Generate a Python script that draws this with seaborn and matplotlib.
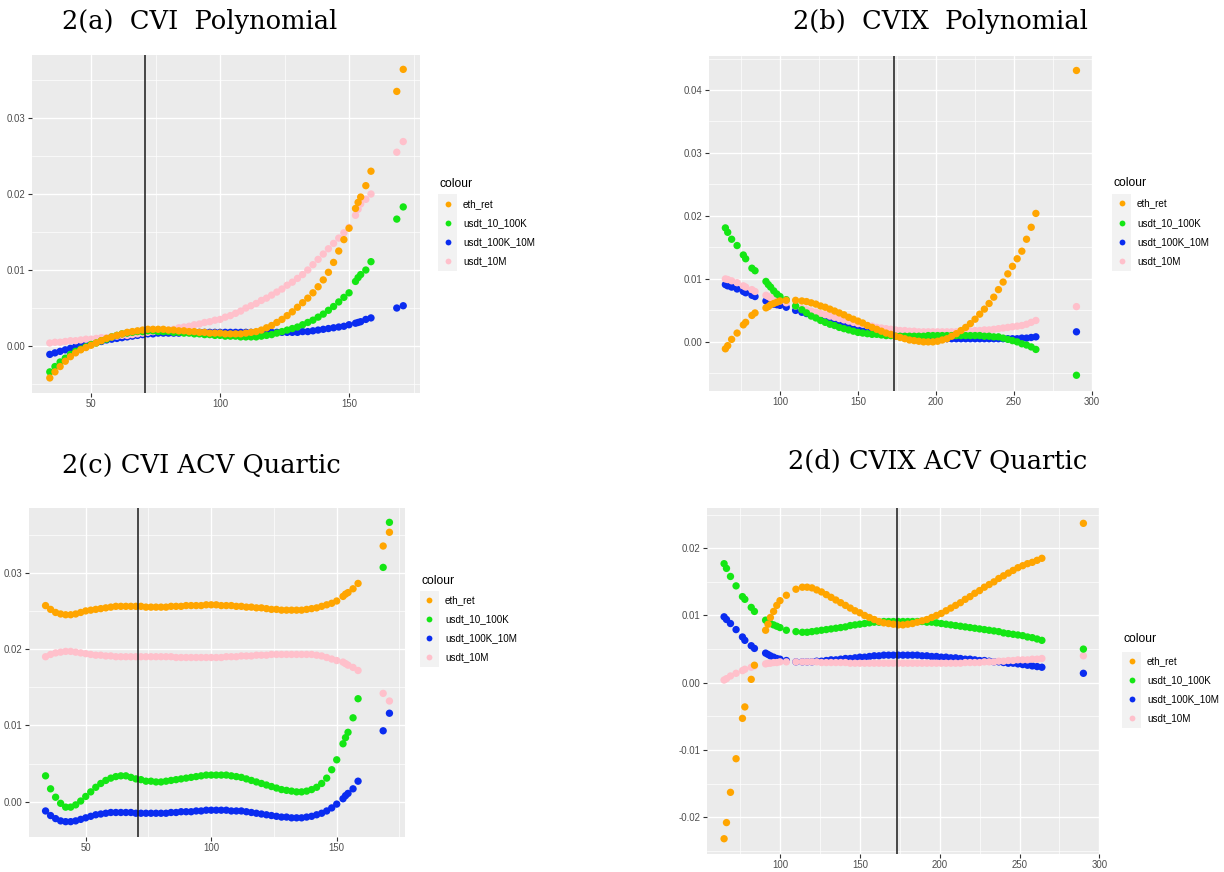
import numpy as np
import pandas as pd
import matplotlib
matplotlib.use("Agg")
import matplotlib.pyplot as plt
import seaborn as sns
from matplotlib.ticker import FixedLocator, FormatStrFormatter
from matplotlib.patches import Rectangle
from matplotlib.lines import Line2D

# ---------------- data ----------------
SERIES = ["eth_ret", "usdt_10_100K", "usdt_100K_10M", "usdt_10M"]
COLORS = {"eth_ret": "#FFA500", "usdt_10_100K": "#14E614",
          "usdt_100K_10M": "#0A2CF0", "usdt_10M": "#FFC0CB"}
DRAW_ORDER = ["usdt_100K_10M", "usdt_10M", "usdt_10_100K", "eth_ret"]

# CVI x positions (panels a and c)
x_cvi = [34, 36, 38, 40, 42, 44, 46, 48, 50, 52,
         54, 56, 58, 60, 62, 64, 66, 68, 70, 72,
         74, 76, 78, 80, 82, 84, 86, 88, 90, 92,
         94, 96, 98, 100, 102, 104, 106, 108, 110, 112,
         114, 116, 118, 120, 122, 124, 126, 128, 130, 132,
         134, 136, 138, 140, 142, 144, 146, 148, 150,
         152.5, 153.5, 154.5, 156.5, 158.5, 168.5, 171]

# 2(a) CVI Polynomial
a_eth_ret = [-0.0042, -0.0034, -0.0027, -0.0020, -0.0014, -0.0009, -0.0005, -0.0002, 0.0001, 0.0004,
             0.0007, 0.0010, 0.0012, 0.0014, 0.0016, 0.0018, 0.0019, 0.0020, 0.0021, 0.0022,
             0.0022, 0.0022, 0.0022, 0.0021, 0.0021, 0.0020, 0.0020, 0.0019, 0.0019, 0.0018,
             0.0018, 0.0017, 0.0017, 0.0017, 0.0016, 0.0016, 0.0016, 0.0016, 0.0017, 0.0018,
             0.0019, 0.0021, 0.0024, 0.0027, 0.0031, 0.0035, 0.0040, 0.0045, 0.0051, 0.0057,
             0.0063, 0.0070, 0.0078, 0.0087, 0.0097, 0.0110, 0.0125, 0.0140, 0.0155,
             0.0181, 0.0189, 0.0196, 0.0211, 0.0230, 0.0335, 0.0364]
a_usdt_10_100K = [-0.0034, -0.0027, -0.0021, -0.0016, -0.0011, -0.0007, -0.0004, -0.0001, 0.0002, 0.0004,
                  0.0007, 0.0009, 0.0012, 0.0014, 0.0016, 0.0017, 0.0018, 0.0019, 0.0019, 0.0020,
                  0.0020, 0.0019, 0.0019, 0.0019, 0.0018, 0.0018, 0.0017, 0.0017, 0.0016, 0.0016,
                  0.0015, 0.0015, 0.0014, 0.0014, 0.0013, 0.0013, 0.0013, 0.0012, 0.0012, 0.0012,
                  0.0012, 0.0013, 0.0014, 0.0015, 0.0017, 0.0019, 0.0021, 0.0023, 0.0025, 0.0028,
                  0.0031, 0.0034, 0.0038, 0.0042, 0.0047, 0.0052, 0.0058, 0.0064, 0.0070,
                  0.0085, 0.0090, 0.0094, 0.0100, 0.0111, 0.0167, 0.0183]
a_usdt_100K_10M = [-0.0011, -0.0009, -0.0007, -0.0005, -0.0003, -0.0001, 0.0001, 0.0002, 0.0004, 0.0005,
                   0.0006, 0.0008, 0.0009, 0.0010, 0.0011, 0.0012, 0.0013, 0.0014, 0.0015, 0.0016,
                   0.0016, 0.0017, 0.0017, 0.0017, 0.0017, 0.0017, 0.0018, 0.0018, 0.0018, 0.0018,
                   0.0018, 0.0018, 0.0018, 0.0018, 0.0018, 0.0018, 0.0018, 0.0018, 0.0018, 0.0018,
                   0.0018, 0.0018, 0.0018, 0.0018, 0.0018, 0.0018, 0.0018, 0.0018, 0.0018, 0.0019,
                   0.0019, 0.0020, 0.0021, 0.0022, 0.0023, 0.0024, 0.0025, 0.0026, 0.0028,
                   0.0030, 0.0031, 0.0032, 0.0035, 0.0037, 0.0050, 0.0053]
a_usdt_10M = [0.0004, 0.0005, 0.0005, 0.0006, 0.0007, 0.0007, 0.0008, 0.0009, 0.0009, 0.0010,
              0.0011, 0.0011, 0.0012, 0.0013, 0.0014, 0.0014, 0.0015, 0.0016, 0.0017, 0.0018,
              0.0019, 0.0020, 0.0020, 0.0021, 0.0022, 0.0024, 0.0025, 0.0026, 0.0028, 0.0029,
              0.0031, 0.0032, 0.0034, 0.0035, 0.0038, 0.0040, 0.0043, 0.0046, 0.0050, 0.0053,
              0.0056, 0.0060, 0.0063, 0.0067, 0.0071, 0.0075, 0.0080, 0.0084, 0.0089, 0.0094,
              0.0100, 0.0107, 0.0114, 0.0121, 0.0128, 0.0135, 0.0142, 0.0149, 0.0156,
              0.0172, 0.0180, 0.0187, 0.0193, 0.0200, 0.0255, 0.0269]

# 2(c) CVI ACV Quartic
c_eth_ret = [0.0257, 0.0252, 0.0248, 0.0246, 0.0245, 0.0245, 0.0246, 0.0248, 0.0250, 0.0251,
             0.0252, 0.0253, 0.0254, 0.0255, 0.0256, 0.0256, 0.0256, 0.0256, 0.0256, 0.0256,
             0.0255, 0.0255, 0.0255, 0.0255, 0.0255, 0.0256, 0.0256, 0.0256, 0.0257, 0.0257,
             0.0257, 0.0257, 0.0258, 0.0258, 0.0258, 0.0257, 0.0257, 0.0257, 0.0256, 0.0256,
             0.0255, 0.0255, 0.0254, 0.0254, 0.0253, 0.0252, 0.0252, 0.0251, 0.0251, 0.0251,
             0.0251, 0.0251, 0.0252, 0.0253, 0.0254, 0.0256, 0.0258, 0.0260, 0.0263,
             0.0269, 0.0272, 0.0274, 0.0279, 0.0286, 0.0335, 0.0353]
c_usdt_10_100K = [0.0034, 0.0017, 0.0006, -0.0002, -0.0007, -0.0007, -0.0004, 0.0001, 0.0007, 0.0013,
                  0.0019, 0.0024, 0.0028, 0.0031, 0.0033, 0.0034, 0.0034, 0.0032, 0.0030, 0.0029,
                  0.0027, 0.0027, 0.0026, 0.0026, 0.0027, 0.0028, 0.0029, 0.0030, 0.0031, 0.0032,
                  0.0033, 0.0034, 0.0035, 0.0035, 0.0035, 0.0035, 0.0035, 0.0034, 0.0033, 0.0032,
                  0.0030, 0.0028, 0.0026, 0.0024, 0.0022, 0.0020, 0.0018, 0.0016, 0.0015, 0.0014,
                  0.0013, 0.0013, 0.0014, 0.0016, 0.0019, 0.0024, 0.0031, 0.0042, 0.0055,
                  0.0076, 0.0084, 0.0091, 0.0110, 0.0135, 0.0307, 0.0366]
c_usdt_100K_10M = [-0.0012, -0.0018, -0.0022, -0.0025, -0.0026, -0.0026, -0.0025, -0.0023, -0.0021, -0.0019,
                   -0.0017, -0.0016, -0.0015, -0.0014, -0.0014, -0.0014, -0.0014, -0.0014, -0.0015, -0.0015,
                   -0.0015, -0.0015, -0.0015, -0.0015, -0.0015, -0.0014, -0.0014, -0.0013, -0.0013, -0.0013,
                   -0.0012, -0.0012, -0.0011, -0.0011, -0.0011, -0.0011, -0.0011, -0.0012, -0.0012, -0.0012,
                   -0.0013, -0.0014, -0.0015, -0.0016, -0.0017, -0.0018, -0.0019, -0.0020, -0.0020, -0.0021,
                   -0.0021, -0.0021, -0.0020, -0.0019, -0.0017, -0.0015, -0.0012, -0.0008, -0.0003,
                   0.0004, 0.0008, 0.0011, 0.0017, 0.0027, 0.0093, 0.0116]
c_usdt_10M = [0.0190, 0.0193, 0.0195, 0.0196, 0.0197, 0.0197, 0.0196, 0.0195, 0.0194, 0.0193,
              0.0192, 0.0192, 0.0191, 0.0191, 0.0190, 0.0190, 0.0190, 0.0190, 0.0190, 0.0190,
              0.0190, 0.0190, 0.0190, 0.0190, 0.0190, 0.0190, 0.0189, 0.0189, 0.0189, 0.0189,
              0.0189, 0.0189, 0.0189, 0.0189, 0.0189, 0.0189, 0.0190, 0.0190, 0.0190, 0.0191,
              0.0191, 0.0191, 0.0192, 0.0192, 0.0192, 0.0193, 0.0193, 0.0193, 0.0193, 0.0193,
              0.0193, 0.0193, 0.0193, 0.0193, 0.0192, 0.0191, 0.0189, 0.0187, 0.0185,
              0.0183, 0.0181, 0.0179, 0.0176, 0.0172, 0.0142, 0.0132]

# CVIX x positions (panels b and d)
x_cvix = [65, 66.5, 69, 72.5, 76.5, 78, 82, 84, 91, 92.5, 94, 96, 98, 100, 104, 110, 114,
          117, 120, 123, 126, 129, 132, 135, 138, 141, 144,
          147, 150, 153, 156, 159, 162, 165, 168, 171, 174,
          177, 180, 183, 186, 189, 192, 195, 198, 201, 204,
          207, 210, 213, 216, 219, 222, 225, 228, 231, 234,
          237, 240, 243, 246, 249, 252, 255, 258, 261, 264,
          290]

# 2(b) CVIX Polynomial
b_eth_ret = [-0.0011, -0.0006, 0.0004, 0.0014, 0.0027, 0.0031, 0.0042, 0.0046, 0.0054, 0.0056,
             0.0059, 0.0061, 0.0063, 0.0065, 0.0066, 0.0066, 0.0065,
             0.0064, 0.0062, 0.0060, 0.0057, 0.0055, 0.0052, 0.0049, 0.0046, 0.0043, 0.0039,
             0.0036, 0.0033, 0.0030, 0.0026, 0.0023, 0.0020, 0.0017, 0.0014, 0.0012, 0.0009,
             0.0007, 0.0005, 0.0003, 0.0002, 0.0001, 0.0000, 0.0000, 0.0000, 0.0001, 0.0003,
             0.0005, 0.0009, 0.0013, 0.0018, 0.0023, 0.0029, 0.0036, 0.0044, 0.0052, 0.0061,
             0.0071, 0.0083, 0.0095, 0.0108, 0.0120, 0.0132, 0.0144, 0.0163, 0.0182, 0.0204,
             0.0431]
b_usdt_10_100K = [0.0181, 0.0174, 0.0163, 0.0153, 0.0138, 0.0132, 0.0117, 0.0113, 0.0096, 0.0091,
                  0.0087, 0.0081, 0.0076, 0.0072, 0.0067, 0.0057, 0.0051,
                  0.0046, 0.0041, 0.0038, 0.0034, 0.0031, 0.0028, 0.0026, 0.0023, 0.0021, 0.0019,
                  0.0017, 0.0015, 0.0014, 0.0013, 0.0012, 0.0012, 0.0011, 0.0010, 0.0010, 0.0009,
                  0.0009, 0.0009, 0.0009, 0.0009, 0.0009, 0.0009, 0.0010, 0.0010, 0.0010, 0.0010,
                  0.0010, 0.0010, 0.0010, 0.0010, 0.0010, 0.0010, 0.0010, 0.0010, 0.0009, 0.0009,
                  0.0008, 0.0008, 0.0006, 0.0004, 0.0002, 0.0000, -0.0003, -0.0005, -0.0008, -0.0012,
                  -0.0053]
b_usdt_100K_10M = [0.0091, 0.0089, 0.0087, 0.0084, 0.0080, 0.0078, 0.0074, 0.0072, 0.0065, 0.0064,
                   0.0062, 0.0060, 0.0059, 0.0058, 0.0055, 0.0050, 0.0047,
                   0.0045, 0.0043, 0.0041, 0.0039, 0.0038, 0.0036, 0.0034, 0.0032, 0.0030, 0.0028,
                   0.0026, 0.0024, 0.0022, 0.0021, 0.0019, 0.0017, 0.0016, 0.0014, 0.0013, 0.0012,
                   0.0010, 0.0009, 0.0008, 0.0007, 0.0006, 0.0006, 0.0005, 0.0005, 0.0005, 0.0005,
                   0.0005, 0.0005, 0.0005, 0.0005, 0.0005, 0.0005, 0.0005, 0.0005, 0.0005, 0.0005,
                   0.0005, 0.0005, 0.0005, 0.0005, 0.0005, 0.0005, 0.0006, 0.0006, 0.0007, 0.0008,
                   0.0016]
b_usdt_10M = [0.0100, 0.0099, 0.0097, 0.0094, 0.0089, 0.0087, 0.0083, 0.0080, 0.0074, 0.0072,
              0.0070, 0.0068, 0.0066, 0.0065, 0.0062, 0.0057, 0.0053,
              0.0051, 0.0049, 0.0047, 0.0045, 0.0043, 0.0041, 0.0039, 0.0037, 0.0035, 0.0033,
              0.0031, 0.0029, 0.0028, 0.0026, 0.0025, 0.0023, 0.0022, 0.0021, 0.0020, 0.0019,
              0.0018, 0.0018, 0.0017, 0.0017, 0.0016, 0.0016, 0.0016, 0.0016, 0.0016, 0.0016,
              0.0016, 0.0016, 0.0016, 0.0017, 0.0017, 0.0017, 0.0018, 0.0018, 0.0019, 0.0019,
              0.0020, 0.0021, 0.0022, 0.0023, 0.0024, 0.0025, 0.0026, 0.0028, 0.0031, 0.0034,
              0.0056]

# 2(d) CVIX ACV Quartic
d_eth_ret = [-0.0232, -0.0208, -0.0163, -0.0113, -0.0053, -0.0036, 0.0005, 0.0026, 0.0078, 0.0087,
             0.0097, 0.0106, 0.0115, 0.0122, 0.0130, 0.0139, 0.0142,
             0.0142, 0.0141, 0.0138, 0.0135, 0.0131, 0.0127, 0.0123, 0.0119, 0.0115, 0.0111,
             0.0107, 0.0104, 0.0100, 0.0097, 0.0094, 0.0091, 0.0089, 0.0088, 0.0087, 0.0086,
             0.0086, 0.0087, 0.0088, 0.0090, 0.0092, 0.0094, 0.0097, 0.0100, 0.0103, 0.0107,
             0.0111, 0.0115, 0.0119, 0.0124, 0.0128, 0.0133, 0.0137, 0.0142, 0.0146, 0.0150,
             0.0155, 0.0159, 0.0163, 0.0167, 0.0171, 0.0174, 0.0177, 0.0179, 0.0182, 0.0185,
             0.0237]
d_usdt_10_100K = [0.0177, 0.0170, 0.0158, 0.0144, 0.0128, 0.0124, 0.0112, 0.0106, 0.0093, 0.0090,
                  0.0088, 0.0086, 0.0084, 0.0082, 0.0078, 0.0076, 0.0075,
                  0.0075, 0.0076, 0.0077, 0.0078, 0.0079, 0.0080, 0.0081, 0.0082, 0.0083, 0.0085,
                  0.0086, 0.0087, 0.0088, 0.0089, 0.0090, 0.0090, 0.0091, 0.0091, 0.0091, 0.0091,
                  0.0091, 0.0091, 0.0091, 0.0091, 0.0091, 0.0090, 0.0090, 0.0089, 0.0088, 0.0087,
                  0.0086, 0.0085, 0.0084, 0.0083, 0.0082, 0.0081, 0.0080, 0.0079, 0.0078, 0.0077,
                  0.0076, 0.0074, 0.0073, 0.0072, 0.0071, 0.0070, 0.0068, 0.0067, 0.0065, 0.0063,
                  0.0050]
d_usdt_100K_10M = [0.0098, 0.0094, 0.0088, 0.0079, 0.0068, 0.0063, 0.0055, 0.0051, 0.0044, 0.0042,
                   0.0040, 0.0038, 0.0036, 0.0035, 0.0033, 0.0031, 0.0031,
                   0.0031, 0.0031, 0.0032, 0.0032, 0.0033, 0.0034, 0.0034, 0.0035, 0.0036, 0.0036,
                   0.0037, 0.0038, 0.0038, 0.0039, 0.0040, 0.0040, 0.0041, 0.0041, 0.0041, 0.0041,
                   0.0041, 0.0041, 0.0041, 0.0041, 0.0040, 0.0040, 0.0039, 0.0039, 0.0038, 0.0038,
                   0.0037, 0.0037, 0.0036, 0.0035, 0.0035, 0.0034, 0.0033, 0.0033, 0.0032, 0.0031,
                   0.0031, 0.0030, 0.0029, 0.0029, 0.0028, 0.0027, 0.0026, 0.0025, 0.0024, 0.0023,
                   0.0014]
d_usdt_10M = [0.0004, 0.0006, 0.0010, 0.0014, 0.0018, 0.0020, 0.0023, 0.0025, 0.0028, 0.0029,
              0.0029, 0.0030, 0.0030, 0.0031, 0.0031, 0.0031, 0.0031,
              0.0031, 0.0031, 0.0031, 0.0030, 0.0030, 0.0030, 0.0030, 0.0030, 0.0030, 0.0029,
              0.0029, 0.0029, 0.0029, 0.0029, 0.0029, 0.0029, 0.0029, 0.0029, 0.0029, 0.0029,
              0.0029, 0.0029, 0.0029, 0.0029, 0.0029, 0.0029, 0.0029, 0.0029, 0.0029, 0.0029,
              0.0029, 0.0029, 0.0029, 0.0030, 0.0030, 0.0030, 0.0030, 0.0031, 0.0031, 0.0031,
              0.0032, 0.0032, 0.0033, 0.0033, 0.0034, 0.0034, 0.0034, 0.0035, 0.0035, 0.0036,
              0.0040]

# vertical reference lines
vline_cvi = 71
vline_cvix = 173

# ---------------- figure ----------------
W, H = 1224, 872
sns.set_theme(style="darkgrid")
plt.rcParams["font.family"] = ["Liberation Sans", "DejaVu Sans"]
plt.rcParams["axes.facecolor"] = "#EBEBEB"

fig = plt.figure(figsize=(W / 100, H / 100), dpi=100)
fig.patch.set_facecolor("white")


def px_rect(x0, y0, x1, y1):
    return [x0 / W, 1 - y1 / H, (x1 - x0) / W, (y1 - y0) / H]


panels = [
    dict(title="2(a)  CVI  Polynomial", tpos=(62, 21), rect=(32, 55, 420, 393),
         x=x_cvi, data={"eth_ret": a_eth_ret, "usdt_10_100K": a_usdt_10_100K,
                        "usdt_100K_10M": a_usdt_100K_10M, "usdt_10M": a_usdt_10M},
         xlim=(27.1, 177.5), ylim=(-0.00618, 0.03829),
         xt=[50, 100, 150], xm=[25, 75, 125, 175],
         yt=[0.0, 0.01, 0.02, 0.03], ym=[-0.005, 0.005, 0.015, 0.025, 0.035],
         vline=vline_cvi, leg=(438, 184, [204, 223, 242, 261])),
    dict(title="2(b)  CVIX  Polynomial", tpos=(793, 21), rect=(709, 56, 1093, 391),
         x=x_cvix, data={"eth_ret": b_eth_ret, "usdt_10_100K": b_usdt_10_100K,
                         "usdt_100K_10M": b_usdt_100K_10M, "usdt_10M": b_usdt_10M},
         xlim=(54.5, 300.6), ylim=(-0.0078, 0.0454),
         xt=[100, 150, 200, 250, 300], xm=[75, 125, 175, 225, 275],
         yt=[0.0, 0.01, 0.02, 0.03, 0.04], ym=[-0.005, 0.005, 0.015, 0.025, 0.035, 0.045],
         vline=vline_cvix, leg=(1112, 183, [203, 223, 242, 261])),
    dict(title="2(c) CVI ACV Quartic", tpos=(62, 466), rect=(29, 508, 405, 837),
         x=x_cvi, data={"eth_ret": c_eth_ret, "usdt_10_100K": c_usdt_10_100K,
                        "usdt_100K_10M": c_usdt_100K_10M, "usdt_10M": c_usdt_10M},
         xlim=(27.4, 177.2), ylim=(-0.00461, 0.03848),
         xt=[50, 100, 150], xm=[25, 75, 125, 175],
         yt=[0.0, 0.01, 0.02, 0.03], ym=[-0.005, 0.005, 0.015, 0.025, 0.035],
         vline=vline_cvi, leg=(420, 581, [600, 619, 638, 657])),
    dict(title="2(d) CVIX ACV Quartic", tpos=(788, 461), rect=(707, 508, 1100, 854),
         x=x_cvix, data={"eth_ret": d_eth_ret, "usdt_10_100K": d_usdt_10_100K,
                         "usdt_100K_10M": d_usdt_100K_10M, "usdt_10M": d_usdt_10M},
         xlim=(54.3, 300.4), ylim=(-0.02547, 0.02598),
         xt=[100, 150, 200, 250, 300], xm=[75, 125, 175, 225, 275],
         yt=[-0.02, -0.01, 0.0, 0.01, 0.02], ym=[-0.025, -0.015, -0.005, 0.005, 0.015, 0.025],
         vline=vline_cvix, leg=(1122, 639, [661, 680, 699, 718])),
]

for p in panels:
    for s in SERIES:
        assert len(p["data"][s]) == len(p["x"]), (p["title"], s, len(p["data"][s]))
    ax = fig.add_axes(px_rect(*p["rect"]))
    frames = [pd.DataFrame({"x": p["x"], "value": p["data"][s], "colour": s}) for s in DRAW_ORDER]
    df = pd.concat(frames, ignore_index=True)
    sns.scatterplot(data=df, x="x", y="value", hue="colour", palette=COLORS,
                    s=28, linewidth=0, legend=False, ax=ax, zorder=3)
    ax.axvline(p["vline"], color="#1a1a1a", lw=1.1, zorder=5)
    ax.set_xlim(*p["xlim"])
    ax.set_ylim(*p["ylim"])
    ax.set_xlabel("")
    ax.set_ylabel("")
    ax.xaxis.set_major_locator(FixedLocator(p["xt"]))
    ax.xaxis.set_minor_locator(FixedLocator(p["xm"]))
    ax.yaxis.set_major_locator(FixedLocator(p["yt"]))
    ax.yaxis.set_minor_locator(FixedLocator(p["ym"]))
    ax.xaxis.set_major_formatter(FormatStrFormatter("%d"))
    ax.yaxis.set_major_formatter(FormatStrFormatter("%.2f"))
    ax.grid(which="major", color="white", lw=1.0)
    ax.grid(which="minor", color="white", lw=0.5)
    ax.set_axisbelow(True)
    for sp in ax.spines.values():
        sp.set_visible(False)
    ax.tick_params(which="major", length=3, width=0.8, color="#333333",
                   labelsize=6.9, labelcolor="#4D4D4D", pad=1.5,
                   bottom=True, left=True)
    ax.tick_params(which="minor", length=0, bottom=False, left=False)

    # panel title
    tx, ty = p["tpos"]
    fig.text(tx / W, 1 - ty / H, p["title"], family="DejaVu Serif",
             fontsize=18.5, ha="left", va="center", color="black")

    # ggplot-style legend
    kx, tyl, rows = p["leg"]
    fig.text((kx + 1) / W, 1 - tyl / H, "colour", fontsize=8.7, ha="left",
             va="center", color="black")
    top = rows[0] - 9.5
    bot = rows[-1] + 9.5
    fig.add_artist(Rectangle((kx / W, 1 - bot / H), 19 / W, (bot - top) / H,
                             transform=fig.transFigure, facecolor="#F2F2F2",
                             edgecolor="none"))
    for s, yy in zip(SERIES, rows):
        fig.add_artist(Line2D([(kx + 9.5) / W], [1 - yy / H], marker="o",
                              markersize=4.2, markeredgewidth=0, linestyle="none",
                              color=COLORS[s], transform=fig.transFigure))
        fig.text((kx + 25) / W, 1 - yy / H, s, fontsize=7.1, ha="left",
                 va="center", color="black")

fig.savefig("out.png", dpi=100, facecolor="white")
